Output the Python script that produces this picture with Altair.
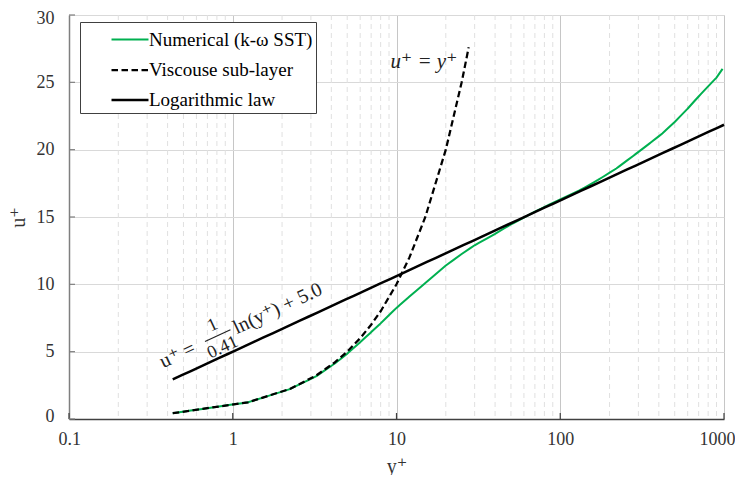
import altair as alt
import pandas as pd

# ---------------- data ----------------
num_yplus = [0.43, 1.24, 2.23, 3.22, 4.2, 5.0, 6.0, 7.0, 8.0, 10, 12, 15, 20, 25, 30, 40, 50, 60, 70, 85,
             100, 130, 170, 220, 280, 350, 420, 500, 600, 700, 800, 900, 980]
num_uplus = [0.43, 1.24, 2.22, 3.16, 4.12, 4.85, 5.7, 6.45, 7.1, 8.25, 9.1, 10.1, 11.4, 12.25, 12.9, 13.75, 14.45,
             14.95, 15.4, 15.9, 16.3, 16.95, 17.75, 18.6, 19.55, 20.45, 21.2, 22.05, 23.05, 23.95, 24.7,
             25.35, 26.0]
vis_yplus = [0.43, 1.24, 2.23, 3.22, 4.2, 5.0, 6.0, 7.0, 8.0, 10, 12, 15, 20, 25, 27.6]
vis_uplus = [0.43, 1.24, 2.23, 3.22, 4.2, 5.0, 6.0, 7.0, 8.0, 10, 12, 15, 20, 25, 27.6]
log_yplus = [0.43, 1000]
log_uplus = [2.94, 21.85]

series_names = ["Numerical (k-ω SST)", "Viscouse sub-layer", "Logarithmic law"]
series_colors = ["#00b050", "#000000", "#000000"]
series_dash = [[10, 0], [6.5, 3.5], [10, 0]]
series_width = [2, 2.5, 2.5]

x_ticks = [0.1, 1, 10, 100, 1000]
y_ticks = [0, 5, 10, 15, 20, 25, 30]
x_minor = [m * 10 ** e for e in range(-1, 3) for m in range(2, 10)]

FONT = "Liberation Serif, Times New Roman, DejaVu Serif, serif"
W, H = 655, 404

rows = []
for name, xs, ys in [(series_names[0], num_yplus, num_uplus),
                     (series_names[1], vis_yplus, vis_uplus),
                     (series_names[2], log_yplus, log_uplus)]:
    for i, (a, b) in enumerate(zip(xs, ys)):
        rows.append({"series": name, "yplus": a, "uplus": b, "idx": i})
df = pd.DataFrame(rows)

xscale = alt.Scale(type="log", domain=[0.1, 1000], nice=False)
yscale = alt.Scale(domain=[0, 30], nice=False, zero=False)

xaxis = alt.Axis(values=x_ticks, format="~g", title="y⁺", grid=True, gridColor="#c6c6c6", gridWidth=1,
                 ticks=False, labelPadding=11, labelFont=FONT, labelFontSize=18, labelColor="#333333",
                 labelFlush=True, labelFlushOffset=11,
                 titleFont=FONT, titleFontSize=20, titleFontWeight="normal", titleColor="#333333",
                 titleX=W / 2, titleY=47, titleBaseline="middle",
                 domainColor="#404040", domainWidth=1.5)
yaxis = alt.Axis(values=y_ticks, title="u⁺", grid=True, gridColor="#d9d9d9", gridWidth=1,
                 ticks=False, labelPadding=15, labelFont=FONT, labelFontSize=18, labelColor="#333333",
                 labelFlush=True, labelFlushOffset=6,
                 titleFont=FONT, titleFontSize=20, titleFontWeight="normal", titleColor="#333333",
                 titleX=-51, titleY=H / 2, titleBaseline="middle", titleAngle=270,
                 domainColor="#7f7f7f", domainWidth=1.5)

xenc = alt.X("yplus:Q", scale=xscale, axis=xaxis)
yenc = alt.Y("uplus:Q", scale=yscale, axis=yaxis)

legend = alt.Legend(title=None, orient="none", legendX=11, legendY=7, direction="vertical",
                    strokeColor="#404040", fillColor="white", padding=3,
                    symbolType="M-1.37,0H1.37", symbolSize=729, symbolStrokeWidth=2,
                    symbolOffset=32, labelOffset=4, rowPadding=5, labelLimit=300,
                    labelFont=FONT, labelFontSize=19, labelColor="#000000")

minor = alt.Chart(pd.DataFrame({"yplus": x_minor})).mark_rule(
    color="#e0e0e0", strokeDash=[5, 4], strokeWidth=1).encode(x=xenc)

lines = alt.Chart(df).mark_line().encode(
    x=xenc, y=yenc,
    order="idx:Q",
    color=alt.Color("series:N", scale=alt.Scale(domain=series_names, range=series_colors), legend=legend),
    strokeDash=alt.StrokeDash("series:N", scale=alt.Scale(domain=series_names, range=series_dash), legend=legend),
    strokeWidth=alt.StrokeWidth("series:N", scale=alt.Scale(domain=series_names, range=series_width), legend=None),
)

xtick_marks = alt.Chart(pd.DataFrame({"yplus": x_ticks})).mark_rule(color="#404040", strokeWidth=1.2).encode(
    x=xenc, y=alt.value(H), y2=alt.value(H - 6))
ytick_marks = alt.Chart(pd.DataFrame({"uplus": y_ticks})).mark_rule(color="#7f7f7f", strokeWidth=1.2).encode(
    y=yenc, x=alt.value(0), x2=alt.value(6))

# annotations (anchored in data coordinates)
ann_yplus = [14.7]
ann_uplus = [26.5]
ann_text = ["u⁺ = y⁺"]
ann1 = alt.Chart(pd.DataFrame({"yplus": ann_yplus, "uplus": ann_uplus, "t": ann_text})).mark_text(
    font=FONT, fontSize=21, fontStyle="italic", color="#222222").encode(x=xenc, y=yenc, text="t:N")

eq_yplus = [0.46, 1.88]
eq_uplus = [4.75, 8.2]
eq_text = ["u⁺ =", "ln(y⁺) + 5.0"]
eq = alt.Chart(pd.DataFrame({"yplus": eq_yplus, "uplus": eq_uplus, "t": eq_text})).mark_text(
    font=FONT, fontSize=20, angle=335, color="#222222", align="center", baseline="middle").encode(
    x=xenc, y=yenc, text="t:N")

frac_yplus = [0.755, 0.869]
frac_uplus = [6.95, 5.3]
frac_text = ["1", "0.41"]
frac = alt.Chart(pd.DataFrame({"yplus": frac_yplus, "uplus": frac_uplus, "t": frac_text})).mark_text(
    font=FONT, fontSize=18, angle=335, color="#222222", align="center", baseline="middle").encode(
    x=xenc, y=yenc, text="t:N")

bar_df = pd.DataFrame({"yplus": [0.677], "uplus": [5.75], "yplus2": [0.968], "uplus2": [6.63]})
fbar = alt.Chart(bar_df).mark_rule(color="#222222", strokeWidth=1.2).encode(
    x=xenc, y=yenc, x2="yplus2:Q", y2="uplus2:Q")

chart = alt.layer(minor, xtick_marks, ytick_marks, lines, ann1, eq, frac, fbar).properties(
    width=W, height=H,
    autosize=alt.AutoSizeParams(type="none"),
    padding={"left": 61, "top": 7, "right": 11, "bottom": 56},
).configure_view(stroke="#8c8c8c", strokeWidth=1.5).configure(background="white")

chart.save("out.html", embed_options={"renderer": "svg", "actions": False})
